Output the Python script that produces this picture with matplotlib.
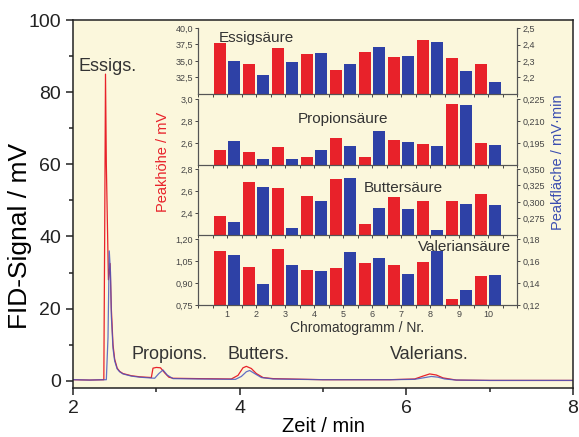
import numpy as np
import matplotlib.pyplot as plt
from matplotlib.ticker import FixedLocator, MultipleLocator

plt.rcParams['font.family'] = ['Liberation Sans', 'DejaVu Sans']

# chromatogram traces (time / min, signal / mV)
t_red = [2.0, 2.2, 2.37, 2.38, 2.39, 2.40, 2.425, 2.445, 2.46, 2.48, 2.50, 2.53, 2.56, 2.60,
         2.70, 2.80, 2.94, 2.96, 3.00, 3.05, 3.10, 3.15, 3.20, 3.50, 3.90, 3.98, 4.04,
         4.08, 4.14, 4.20, 4.28, 4.40, 5.00, 5.80, 6.10, 6.20, 6.28, 6.36, 6.44, 6.60,
         7.00, 7.50, 8.0]
s_red = [0.3, 0.2, 0.3, 40.0, 85.0, 60.0, 28.0, 32.5, 20.0, 10.0, 6.0, 3.5, 2.6, 2.0,
         1.4, 1.1, 0.9, 3.5, 3.7, 3.6, 2.2, 1.0, 0.7, 0.6, 0.5, 1.5, 3.6,
         4.0, 3.4, 2.0, 0.9, 0.6, 0.3, 0.3, 0.5, 1.3, 1.9, 1.6, 0.8, 0.2,
         0.1, 0.1, 0.1]

t_blue = [2.0, 2.2, 2.40, 2.42, 2.435, 2.45, 2.46, 2.48, 2.50, 2.53, 2.56, 2.60,
          2.70, 2.80, 2.98, 3.03, 3.08, 3.13, 3.20, 3.50, 3.95, 4.02, 4.08, 4.12,
          4.18, 4.26, 4.40, 5.00, 5.80, 6.10, 6.20, 6.30, 6.38, 6.46, 6.60, 7.0, 7.5, 8.0]
s_blue = [0.3, 0.2, 0.3, 12.0, 36.0, 30.0, 18.0, 9.0, 5.5, 3.3, 2.5, 1.9,
          1.3, 1.0, 0.7, 2.0, 3.0, 1.6, 0.6, 0.5, 0.4, 1.2, 2.5, 2.85,
          2.0, 0.9, 0.5, 0.3, 0.3, 0.4, 0.8, 1.2, 1.0, 0.5, 0.2, 0.1, 0.1, 0.1]

peak_labels = ['Essigs.', 'Propions.', 'Butters.', 'Valerians.']

# inset bar data, chromatogram no. 1..10
nr = np.arange(1, 11)
essig_hoehe = [37.7, 34.6, 36.9, 36.1, 33.6, 36.4, 35.6, 38.2, 35.5, 34.5]
essig_flaeche = [2.300, 2.214, 2.293, 2.351, 2.283, 2.386, 2.332, 2.413, 2.239, 2.173]
propion_hoehe = [2.534, 2.522, 2.562, 2.470, 2.644, 2.470, 2.625, 2.588, 2.956, 2.603]
propion_flaeche = [0.1964, 0.1842, 0.1842, 0.1899, 0.1927, 0.2031, 0.1957, 0.1927, 0.2208, 0.1934]
butter_hoehe = [2.375, 2.686, 2.625, 2.554, 2.708, 2.300, 2.548, 2.508, 2.505, 2.569]
butter_flaeche = [0.269, 0.322, 0.260, 0.302, 0.336, 0.291, 0.289, 0.257, 0.297, 0.295]
valerian_hoehe = [1.116, 1.009, 1.130, 0.986, 1.002, 1.039, 1.020, 1.045, 0.793, 0.945]
valerian_flaeche = [0.1652, 0.1390, 0.1564, 0.1506, 0.1685, 0.1627, 0.1485, 0.1691, 0.1333, 0.1473]

RED = '#e8222a'
BLUE = '#2e41a6'
BG = '#fbf7dc'

fig = plt.figure(figsize=(5.79, 4.37), dpi=100)
W, H = 579.0, 437.0

def box(l, t, r, b):
    return [l / W, 1 - b / H, (r - l) / W, (b - t) / H]

ax = fig.add_axes(box(73, 20, 573, 388))
ax.set_facecolor(BG)
ax.plot(t_red, s_red, color=RED, lw=0.9)
ax.plot(t_blue, s_blue, color='#4a58c0', lw=0.9, alpha=0.85)
ax.set_xlim(2, 8)
ax.set_ylim(-2, 100)
ax.xaxis.set_major_locator(MultipleLocator(2))
ax.xaxis.set_minor_locator(MultipleLocator(1))
ax.yaxis.set_major_locator(MultipleLocator(20))
ax.yaxis.set_minor_locator(MultipleLocator(10))
ax.tick_params(which='both', direction='out', width=1.1, labelsize=14, colors='#222222')
ax.tick_params(which='major', length=5)
ax.tick_params(which='minor', length=3)
for sp in ax.spines.values():
    sp.set_color('#222222')
    sp.set_linewidth(1.1)
ax.set_xlabel('Zeit / min', fontsize=14.5, labelpad=0)
ax.set_ylabel('FID-Signal / mV', fontsize=19)
ax.yaxis.set_label_coords((32 - 73) / 500.0, (388 - 236) / 368.0)

ax.text(2.07, 87, peak_labels[0], fontsize=13, color='#333333', va='center')
ax.text(2.70, 7.2, peak_labels[1], fontsize=13, color='#333333', va='center')
ax.text(3.86, 7.2, peak_labels[2], fontsize=13, color='#333333', va='center')
ax.text(5.80, 7.2, peak_labels[3], fontsize=13, color='#333333', va='center')

# inset: four stacked panels with twin axes
panels = [
    ('Essigsäure', essig_hoehe, essig_flaeche, (30, 40), (2.1, 2.5),
     [32.5, 35, 37.5, 40], ['32,5', '35,0', '37,5', '40,0'],
     [2.2, 2.3, 2.4, 2.5], ['2,2', '2,3', '2,4', '2,5'], 28, 94),
    ('Propionsäure', propion_hoehe, propion_flaeche, (2.4, 3.0), (0.18, 0.225),
     [2.6, 2.8, 3.0], ['2,6', '2,8', '3,0'],
     [0.195, 0.210, 0.225], ['0,195', '0,210', '0,225'], 99, 165),
    ('Buttersäure', butter_hoehe, butter_flaeche, (2.2, 2.8), (0.25, 0.35),
     [2.4, 2.6, 2.8], ['2,4', '2,6', '2,8'],
     [0.275, 0.300, 0.325, 0.350], ['0,275', '0,300', '0,325', '0,350'], 169, 235),
    ('Valeriansäure', valerian_hoehe, valerian_flaeche, (0.75, 1.20), (0.12, 0.18),
     [0.75, 0.90, 1.05, 1.20], ['0,75', '0,90', '1,05', '1,20'],
     [0.12, 0.14, 0.16, 0.18], ['0,12', '0,14', '0,16', '0,18'], 239, 305),
]
title_pos = [(0.72, 0.85, 'left'), (5.0, 0.70, 'center'), (5.72, 0.71, 'left'), (10.78, 0.88, 'right')]

bw = 0.41
for i, (name, hoehe, flaeche, yl, yr, lt, ltl, rt, rtl, top, bot) in enumerate(panels):
    a = fig.add_axes(box(198, top, 517, bot))
    a.set_facecolor(BG)
    b = a.twinx()
    a.bar(nr - 0.235, hoehe, width=bw, color=RED, zorder=2)
    b.bar(nr + 0.235, flaeche, width=bw, color=BLUE, zorder=2)
    a.set_xlim(0, 11)
    a.set_ylim(*yl)
    b.set_ylim(*yr)
    a.yaxis.set_major_locator(FixedLocator(lt))
    a.set_yticklabels(ltl)
    b.yaxis.set_major_locator(FixedLocator(rt))
    b.set_yticklabels(rtl)
    a.xaxis.set_major_locator(FixedLocator(list(nr)))
    a.xaxis.set_minor_locator(MultipleLocator(0.5))
    for aa in (a, b):
        aa.spines['top'].set_visible(False)
        for sp in ('left', 'right', 'bottom'):
            aa.spines[sp].set_color('#555555')
            aa.spines[sp].set_linewidth(0.8)
        aa.tick_params(which='both', direction='out', length=2.5, width=0.7,
                       labelsize=6.5, colors='#444444', pad=1.2)
    if i < 3:
        a.set_xticklabels([])
    else:
        a.set_xticklabels([str(n) for n in nr])
    tx, ty, ha = title_pos[i]
    b.text(tx, yr[0] + ty * (yr[1] - yr[0]), name, fontsize=11, color='#333333',
           ha=ha, va='center', zorder=5)

fig.text(163 / W, 1 - 162 / H, 'Peakhöhe / mV', color=RED, fontsize=10.5,
         rotation=90, ha='center', va='center')
fig.text(558 / W, 1 - 162 / H, 'Peakfläche / mV·min', color='#3a4db0', fontsize=10.5,
         rotation=90, ha='center', va='center')
fig.text(357 / W, 1 - 328 / H, 'Chromatogramm / Nr.', color='#333333', fontsize=10,
         ha='center', va='center')

fig.savefig('out.png', dpi=100)
